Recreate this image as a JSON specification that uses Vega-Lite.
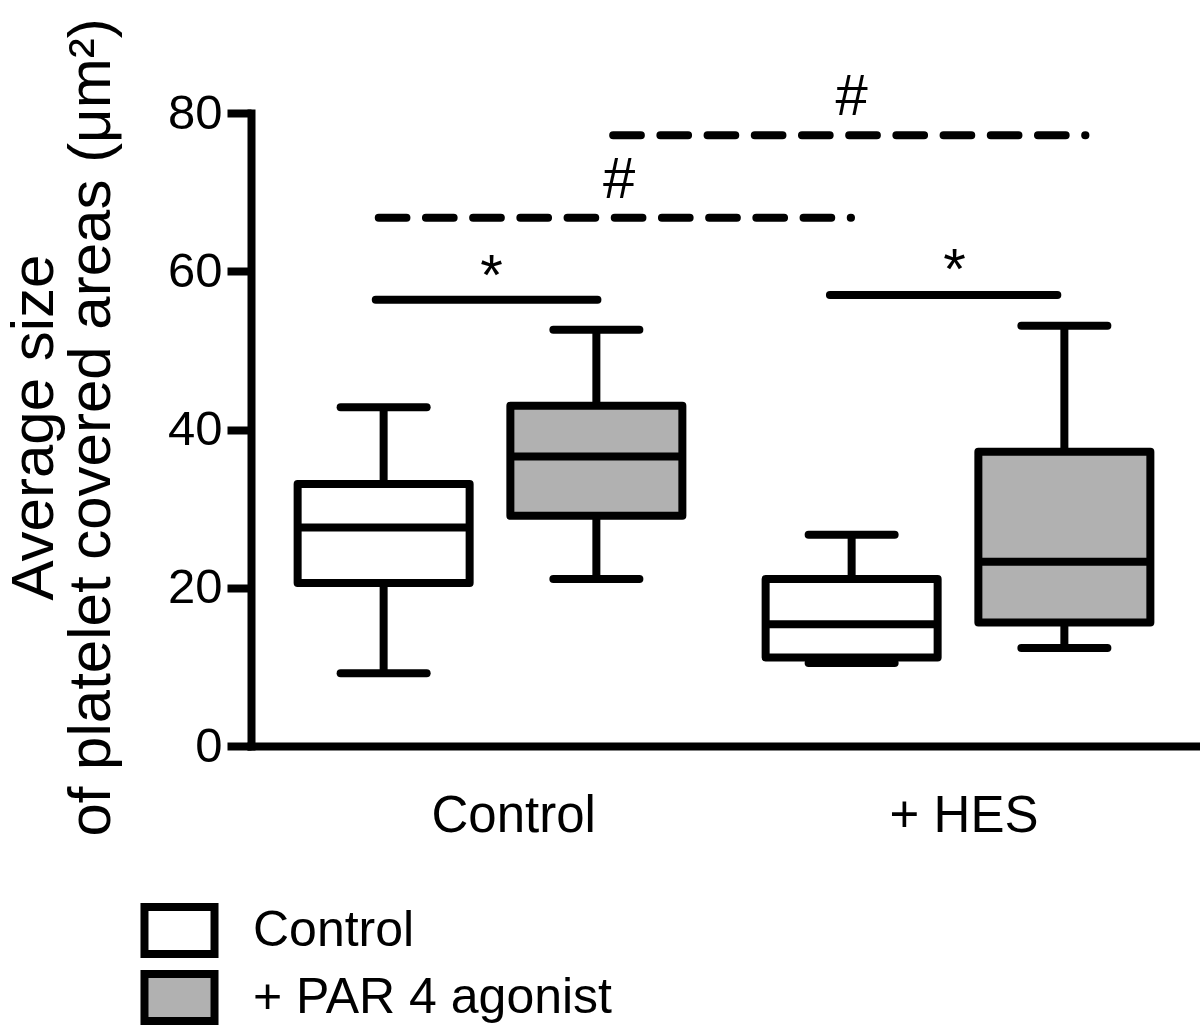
{
  "$schema": "https://vega.github.io/schema/vega-lite/v6.json",
  "autosize": {"type": "none"},
  "padding": {"left": 251, "top": 113, "right": 3, "bottom": 285},
  "width": 946,
  "height": 633,
  "config": {
    "view": {"stroke": null},
    "font": "Liberation Sans",
    "axis": {"grid": false, "labelColor": "black", "domainColor": "black", "tickColor": "black", "labelFont": "Liberation Sans", "titleFont": "Liberation Sans"},
    "legend": {"labelFont": "Liberation Sans"}
  },
  "datasets": {
    "boxes": [
      {"group": "Control", "treatment": "Control", "pos": 1, "low": 9.2, "q1": 20.6, "median": 27.6, "q3": 33.1, "high": 42.8},
      {"group": "Control", "treatment": "+ PAR 4 agonist", "pos": 2, "low": 21.1, "q1": 29.1, "median": 36.6, "q3": 43.0, "high": 52.6},
      {"group": "+ HES", "treatment": "Control", "pos": 3.2, "low": 10.5, "q1": 11.2, "median": 15.4, "q3": 21.1, "high": 26.7},
      {"group": "+ HES", "treatment": "+ PAR 4 agonist", "pos": 4.2, "low": 12.4, "q1": 15.6, "median": 23.3, "q3": 37.2, "high": 53.1}
    ],
    "solid": [
      {"from": 0.963, "to": 2.005, "level": 56.4},
      {"from": 3.098, "to": 4.167, "level": 57.0}
    ],
    "dashed": [
      {"from": 0.977, "to": 3.197, "level": 66.75},
      {"from": 2.079, "to": 4.299, "level": 77.2}
    ],
    "marks": [
      {"label": "*", "pos": 1.507, "level": 57.0},
      {"label": "*", "pos": 3.684, "level": 57.7},
      {"label": "#", "pos": 2.107, "level": 69.3},
      {"label": "#", "pos": 3.2, "level": 79.8}
    ]
  },
  "encoding": {
    "x": {
      "type": "quantitative",
      "scale": {"domain": [0.4, 4.8], "nice": false, "zero": false},
      "axis": {
        "values": [1.609, 3.726],
        "labelExpr": "datum.value < 2.5 ? 'Control' : '+ HES'",
        "ticks": false,
        "tickSize": 0,
        "domainWidth": 8,
        "domainCap": "square",
        "labelFontSize": 51,
        "labelPadding": 45,
        "title": null
      }
    },
    "y": {
      "type": "quantitative",
      "scale": {"domain": [0, 80], "nice": false, "zero": true},
      "axis": {
        "values": [0, 20, 40, 60, 80],
        "domainWidth": 8,
        "domainCap": "square",
        "tickWidth": 8,
        "tickSize": 24,
        "labelFontSize": 49,
        "labelPadding": 5,
        "title": ["Average size", "of platelet covered areas (μm²)"],
        "titleFontSize": 60,
        "titleFontWeight": "normal",
        "titleLineHeight": 57,
        "titleAngle": -90,
        "titleAlign": "center",
        "titleBaseline": "alphabetic",
        "titleX": -199,
        "titleY": 314
      }
    }
  },
  "layer": [
    {
      "data": {"name": "boxes"},
      "mark": {"type": "rule", "color": "black", "strokeWidth": 8},
      "encoding": {"x": {"field": "pos"}, "y": {"field": "low"}, "y2": {"field": "high"}}
    },
    {
      "data": {"name": "boxes"},
      "mark": {"type": "point", "shape": "M-1,0H1", "size": 7396, "filled": false, "color": "black", "opacity": 1, "strokeWidth": 8, "strokeCap": "round"},
      "encoding": {"x": {"field": "pos"}, "y": {"field": "low"}}
    },
    {
      "data": {"name": "boxes"},
      "mark": {"type": "point", "shape": "M-1,0H1", "size": 7396, "filled": false, "color": "black", "opacity": 1, "strokeWidth": 8, "strokeCap": "round"},
      "encoding": {"x": {"field": "pos"}, "y": {"field": "high"}}
    },
    {
      "data": {"name": "boxes"},
      "mark": {"type": "bar", "orient": "vertical", "width": 172, "stroke": "black", "strokeWidth": 8, "strokeJoin": "round", "opacity": 1, "fillOpacity": 1},
      "encoding": {
        "x": {"field": "pos"},
        "y": {"field": "q1"},
        "y2": {"field": "q3"},
        "fill": {
          "field": "treatment",
          "type": "nominal",
          "scale": {"domain": ["Control", "+ PAR 4 agonist"], "range": ["#ffffff", "#b1b1b1"]},
          "legend": {
            "orient": "none",
            "legendX": -99,
            "legendY": 790,
            "title": null,
            "direction": "vertical",
            "symbolType": "M-1.49,-1H1.49V1H-1.49Z",
            "symbolSize": 2209,
            "symbolStrokeColor": "black",
            "symbolStrokeWidth": 8,
            "symbolOpacity": 1,
            "labelFontSize": 50,
            "labelColor": "black",
            "labelOffset": 46,
            "labelLimit": 600,
            "rowPadding": -15
          }
        }
      }
    },
    {
      "data": {"name": "boxes"},
      "mark": {"type": "point", "shape": "M-1,0H1", "size": 29584, "filled": false, "color": "black", "opacity": 1, "strokeWidth": 8, "strokeCap": "butt"},
      "encoding": {"x": {"field": "pos"}, "y": {"field": "median"}}
    },
    {
      "data": {"name": "solid"},
      "mark": {"type": "rule", "color": "black", "strokeWidth": 8, "strokeCap": "round"},
      "encoding": {"x": {"field": "from"}, "x2": {"field": "to"}, "y": {"field": "level"}}
    },
    {
      "data": {"name": "dashed"},
      "mark": {"type": "rule", "color": "black", "strokeWidth": 8, "strokeCap": "round", "strokeDash": [27.7, 19.5]},
      "encoding": {"x": {"field": "from"}, "x2": {"field": "to"}, "y": {"field": "level"}}
    },
    {
      "data": {"name": "marks"},
      "mark": {"type": "text", "fontSize": 58, "align": "center", "baseline": "alphabetic", "color": "black"},
      "encoding": {"x": {"field": "pos"}, "y": {"field": "level"}, "text": {"field": "label"}}
    }
  ]
}
